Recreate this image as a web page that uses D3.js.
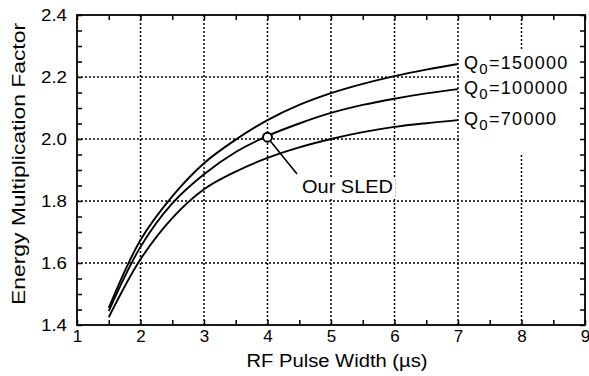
<!DOCTYPE html>
<html>
<head>
<meta charset="utf-8">
<script src="https://cdn.jsdelivr.net/npm/d3@7"></script>
<style>
  body { margin: 0; background: #fff; }
  svg { display: block; font-family: "Liberation Sans", Arial, Helvetica, sans-serif; }
</style>
</head>
<body>
<div id="chart"></div>
<script>
"use strict";

// values
const pulseWidth = [1.5, 2, 2.5, 3, 3.5, 4, 4.5, 5, 5.5, 6, 6.5, 7];
const q150000 = [1.455, 1.674, 1.815, 1.922, 1.998, 2.061, 2.11, 2.148, 2.178, 2.203, 2.224, 2.242];
const q100000 = [1.445, 1.652, 1.792, 1.886, 1.958, 2.01, 2.05, 2.084, 2.11, 2.13, 2.147, 2.161];
const q70000 = [1.425, 1.612, 1.745, 1.838, 1.895, 1.939, 1.973, 2.0, 2.022, 2.039, 2.051, 2.061];
const seriesNames = ["150000", "100000", "70000"];
const seriesValues = [q150000, q100000, q70000];

const xTicks = [1, 2, 3, 4, 5, 6, 7, 8, 9];
const yTicks = [1.4, 1.6, 1.8, 2.0, 2.2, 2.4];
const sledPoint = [4, 2.006];

const W = 589;
const H = 376;
const plotL = 77, plotR = 585, plotT = 15, plotB = 325;

const svg = d3
  .select("#chart")
  .append("svg")
  .attr("width", W)
  .attr("height", H);

const x = d3.scaleLinear().domain([1, 9]).range([plotL, plotR]);
const y = d3.scaleLinear().domain([1.4, 2.4]).range([plotB, plotT]);

// dotted grid, skipping the box edges
const grid = svg.append("g").attr("stroke", "#000").attr("stroke-width", 1.5)
  .attr("stroke-dasharray", "2,2");

grid.selectAll(".vg")
  .data(xTicks.slice(1, -1))
  .enter()
  .append("line")
  .attr("x1", (d) => x(d))
  .attr("x2", (d) => x(d))
  .attr("y1", plotT)
  .attr("y2", plotB);

grid.selectAll(".hg")
  .data(yTicks.slice(1, -1))
  .enter()
  .append("line")
  .attr("x1", plotL)
  .attr("x2", plotR)
  .attr("y1", (d) => y(d))
  .attr("y2", (d) => y(d));

// white patch behind the Q0 labels
svg.append("rect")
  .attr("x", x(7.05))
  .attr("y", y(2.285))
  .attr("width", x(8.97) - x(7.05))
  .attr("height", y(1.95) - y(2.285))
  .attr("fill", "#fff");

// curves
const line = d3.line()
  .x((d) => x(d[0]))
  .y((d) => y(d[1]))
  .curve(d3.curveCatmullRom.alpha(0.5));

seriesValues.forEach((vals) => {
  svg.append("path")
    .datum(pulseWidth.map((p, i) => [p, vals[i]]))
    .attr("d", line)
    .attr("fill", "none")
    .attr("stroke", "#000")
    .attr("stroke-width", 1.9);
});

// Q0 labels at curve ends
seriesNames.forEach((name, i) => {
  const vals = seriesValues[i];
  const t = svg.append("text")
    .attr("x", x(7) + 6)
    .attr("y", y(vals[vals.length - 1]) + 5)
    .attr("font-size", 18)
    .attr("letter-spacing", 1.3);
  t.append("tspan").text("Q");
  t.append("tspan").attr("font-size", 15).attr("dy", 5).text("0");
  t.append("tspan").attr("dy", -5).text("=" + name);
});

// Our SLED marker
const sledLabel = svg.append("text")
  .attr("x", 302)
  .attr("y", 193)
  .attr("font-size", 18)
  .attr("textLength", 91)
  .attr("lengthAdjust", "spacingAndGlyphs")
  .text("Our SLED");

const bb = sledLabel.node().getBBox();
svg.insert("rect", "text")
  .attr("x", bb.x - 2)
  .attr("y", bb.y)
  .attr("width", bb.width + 4)
  .attr("height", bb.height)
  .attr("fill", "#fff");

svg.append("line")
  .attr("x1", x(sledPoint[0]) + 3)
  .attr("y1", y(sledPoint[1]) + 4)
  .attr("x2", 297)
  .attr("y2", 174)
  .attr("stroke", "#000")
  .attr("stroke-width", 1.6);

svg.append("circle")
  .attr("cx", x(sledPoint[0]))
  .attr("cy", y(sledPoint[1]))
  .attr("r", 4.5)
  .attr("fill", "#fff")
  .attr("stroke", "#000")
  .attr("stroke-width", 2);

// axes: inward minor ticks on all four sides
const xMinor = d3.range(1, 9.01, 0.5);
const yMinor = d3.range(1.4, 2.401, 0.05);

function plain(g) {
  g.select(".domain").remove();
  g.selectAll(".tick line").attr("stroke-width", 1.5);
}

svg.append("g")
  .attr("transform", `translate(0,${plotB})`)
  .call(d3.axisBottom(x).tickValues(xMinor).tickSize(-5).tickFormat(""))
  .call(plain);
svg.append("g")
  .attr("transform", `translate(0,${plotT})`)
  .call(d3.axisTop(x).tickValues(xMinor).tickSize(-5).tickFormat(""))
  .call(plain);
svg.append("g")
  .attr("transform", `translate(${plotL},0)`)
  .call(d3.axisLeft(y).tickValues(yMinor).tickSize(-5).tickFormat(""))
  .call(plain);
svg.append("g")
  .attr("transform", `translate(${plotR},0)`)
  .call(d3.axisRight(y).tickValues(yMinor).tickSize(-5).tickFormat(""))
  .call(plain);

// tick labels
svg.append("g")
  .attr("transform", `translate(0,${plotB})`)
  .call(d3.axisBottom(x).tickValues(xTicks).tickSize(0).tickPadding(5).tickFormat(d3.format("d")))
  .call((g) => g.select(".domain").remove())
  .selectAll("text")
  .attr("font-size", 17)
  .attr("fill", "#000");

svg.append("g")
  .attr("transform", `translate(${plotL},0)`)
  .call(d3.axisLeft(y).tickValues(yTicks).tickSize(0).tickPadding(10).tickFormat(d3.format(".1f")))
  .call((g) => g.select(".domain").remove())
  .selectAll("text")
  .attr("font-size", 17)
  .attr("textLength", 26)
  .attr("lengthAdjust", "spacingAndGlyphs")
  .attr("fill", "#000");

svg.selectAll("g").attr("font-family", null);

// frame
svg.append("rect")
  .attr("x", plotL)
  .attr("y", plotT)
  .attr("width", plotR - plotL)
  .attr("height", plotB - plotT)
  .attr("fill", "none")
  .attr("stroke", "#000")
  .attr("stroke-width", 1.8);

// axis titles
svg.append("text")
  .attr("x", 337)
  .attr("y", 367)
  .attr("text-anchor", "middle")
  .attr("font-size", 18)
  .attr("textLength", 181)
  .attr("lengthAdjust", "spacingAndGlyphs")
  .text("RF Pulse Width (µs)");

svg.append("text")
  .attr("transform", "translate(25,164) rotate(-90)")
  .attr("text-anchor", "middle")
  .attr("font-size", 18)
  .attr("textLength", 282)
  .attr("lengthAdjust", "spacingAndGlyphs")
  .text("Energy Multiplication Factor");
</script>
</body>
</html>
